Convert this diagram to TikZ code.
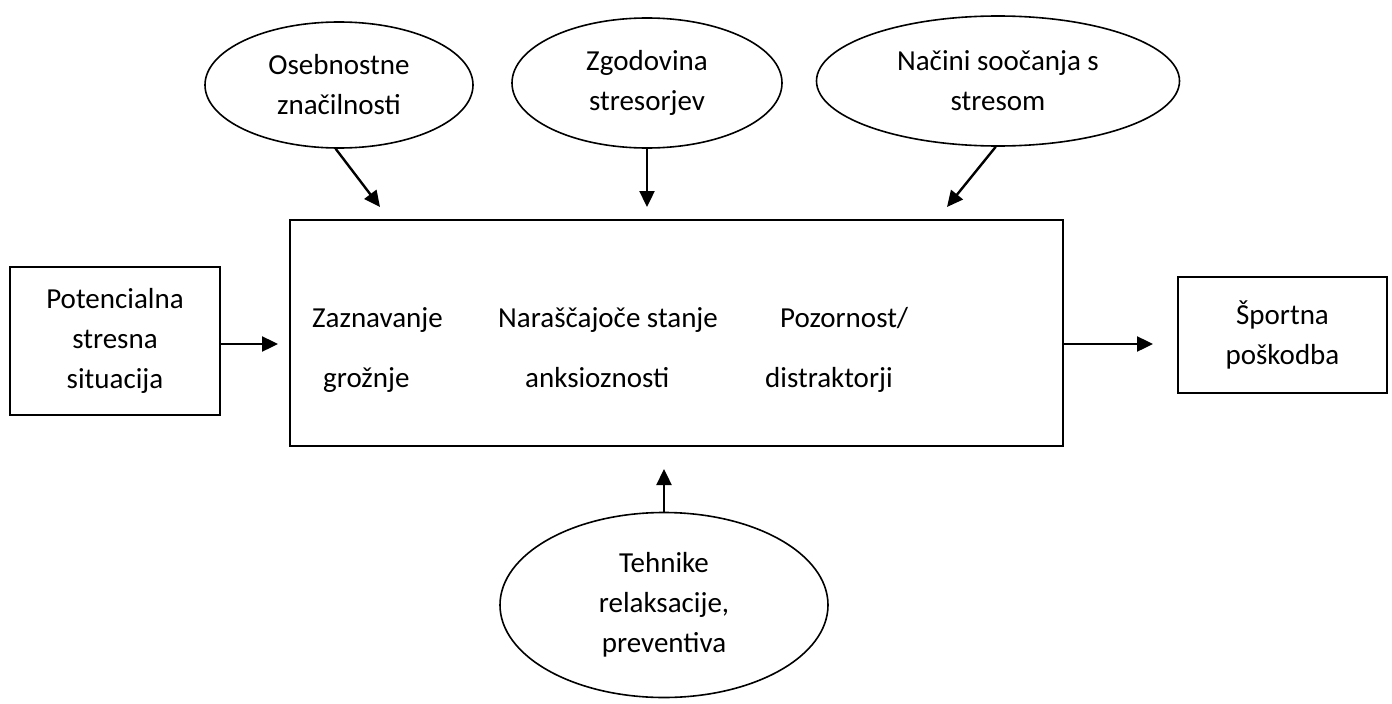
\documentclass[tikz,border=0pt]{standalone}
\usepackage{fontspec}
\setmainfont{Carlito}
\usetikzlibrary{shapes.geometric, arrows.meta, positioning, calc}

\begin{document}
\begin{tikzpicture}[
    x=1pt, y=-1pt,
    every node/.style={font=\fontsize{29}{40}\selectfont},
    factor/.style={ellipse, draw=black, line width=1.6pt, inner sep=0pt, align=center},
    stage/.style={rectangle, draw=black, line width=1.6pt, inner sep=0pt, align=center},
    phase/.style={anchor=base west, inner sep=0pt},
    arrow/.style={-{Triangle[length=16pt, width=15pt]}, line width=2.4pt}
]
\useasboundingbox (0,0) rectangle (1392,704);
\node (pers) [factor, minimum width=268pt, minimum height=126pt] at (339,85) {Osebnostne\\značilnosti};
\node (hist) [factor, minimum width=270pt, minimum height=130pt] at (647,83) {Zgodovina\\stresorjev};
\node (cope) [factor, minimum width=363pt, minimum height=130pt] at (998,81) {Načini soočanja s\\stresom};
\node (relax) [factor, minimum width=328pt, minimum height=185pt] at (664,605) {Tehnike\\relaksacije,\\preventiva};
\node (sit) [stage, minimum width=210pt, minimum height=148pt] at (115,341) {Potencialna\\stresna\\situacija};
\node (main) [stage, minimum width=773pt, minimum height=226pt] at (676.5,333) {};
\node (inj) [stage, minimum width=209pt, minimum height=116pt] at (1282.5,335) {Športna\\poškodba};
\node (detect) [phase] at (312,327) {Zaznavanje};
\node (detect2) [phase] at (323,387) {grožnje};
\node (anx) [phase] at (498,327) {Naraščajoče stanje};
\node (anx2) [phase] at (525,387) {anksioznosti};
\node (att) [phase] at (780,327) {Pozornost/};
\node (att2) [phase] at (765,387) {distraktorji};
\coordinate (t1) at (380,207);
\coordinate (t2) at (647,207);
\coordinate (t3) at (947,207);
\coordinate (t4) at (664,469);
\coordinate (tin) at (278,344);
\coordinate (tout) at (1153,344);
\draw [arrow] (pers.267) -- (t1);
\draw [arrow] (hist) -- (t2);
\draw [arrow] (cope.268) -- (t3);
\draw [arrow] (relax) -- (t4);
\draw [arrow] (sit.east |- tin) -- (tin);
\draw [arrow] (main.east |- tout) -- (tout);
\end{tikzpicture}
\end{document}
